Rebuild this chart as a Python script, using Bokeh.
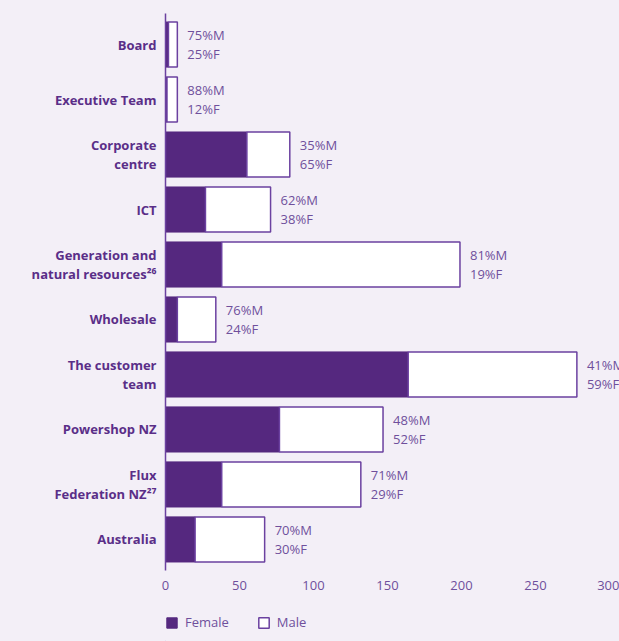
from bokeh.plotting import figure
from bokeh.models import ColumnDataSource, FactorRange, Range1d, FixedTicker, Legend, LegendItem
from bokeh.layouts import column
from bokeh.core.properties import value
from bokeh.embed import file_html
from bokeh.resources import INLINE

categories = ["Board", "Executive Team", "Corporate\ncentre", "ICT",
              "Generation and\nnatural resources\u00b2\u2076", "Wholesale",
              "The customer\nteam", "Powershop NZ", "Flux\nFederation NZ\u00b2\u2077",
              "Australia"]
female = [2, 1, 55, 27, 38, 8, 164, 77, 38, 20]
male = [6, 7, 29, 44, 161, 26, 114, 70, 94, 47]
male_pct = ["75%M", "88%M", "35%M", "62%M", "81%M", "76%M", "41%M", "48%M", "71%M", "70%M"]
female_pct = ["25%F", "12%F", "65%F", "38%F", "19%F", "24%F", "59%F", "52%F", "29%F", "30%F"]
x_ticks = [0, 50, 100, 150, 200, 250, 300]
series = ["Female", "Male"]

PURPLE = "#55287f"
LINE = "#6b41a0"
LABEL = "#5a2e88"
SOFT = "#6f4f9c"
BG = "#f3eff7"
FONT = "Open Sans"

total = [f + m for f, m in zip(female, male)]
pct_text = [a + "\n" + b for a, b in zip(male_pct, female_pct)]

src = ColumnDataSource(dict(cat=categories, female=female, male=male, total=total,
                            zero=[0] * len(categories), txt=pct_text))

p = figure(width=619, height=600, output_backend="svg", toolbar_location=None,
           y_range=FactorRange(factors=list(reversed(categories)), range_padding=0.065,
                               range_padding_units="absolute"),
           x_range=Range1d(0, 306.8),
           min_border_left=165, min_border_right=0, min_border_top=13, min_border_bottom=30)
p.background_fill_color = BG
p.border_fill_color = BG
p.outline_line_color = None
p.grid.grid_line_color = None

r_f = p.hbar(y="cat", left="zero", right="female", height=0.82, source=src,
             fill_color=PURPLE, line_color=PURPLE, line_width=1)
r_m = p.hbar(y="cat", left="female", right="total", height=0.82, source=src,
             fill_color="white", line_color=LINE, line_width=1.5)
p.text(x="total", y="cat", text="txt", source=src, x_offset=10,
       text_baseline="middle", text_align="left", text_font_size="13px",
       text_color=SOFT, text_font=value(FONT), text_line_height=1.02)

xa = p.xaxis[0]
xa.ticker = FixedTicker(ticks=x_ticks)
xa.axis_line_color = None
xa.major_tick_line_color = None
xa.minor_tick_line_color = None
xa.major_tick_out = 0
xa.major_tick_in = 0
xa.major_label_text_font_size = "13px"
xa.major_label_text_color = SOFT
xa.major_label_text_font = FONT
xa.major_label_standoff = 10

ya = p.yaxis[0]
ya.axis_line_color = LINE
ya.axis_line_width = 1.5
ya.major_tick_line_color = None
ya.minor_tick_line_color = None
ya.major_tick_out = 0
ya.major_tick_in = 0
ya.major_label_text_font_size = "13px"
ya.major_label_text_font_style = "bold"
ya.major_label_text_color = LABEL
ya.major_label_text_font = FONT
ya.major_label_text_line_height = 1.02
ya.major_label_standoff = 9

# legend strip below the chart
lg = figure(width=619, height=41, output_backend="svg", toolbar_location=None,
            x_axis_location=None, y_axis_location=None,
            x_range=Range1d(0, 10), y_range=Range1d(0, 10),
            min_border_left=0, min_border_right=0, min_border_top=0, min_border_bottom=0)
lg.background_fill_color = BG
lg.border_fill_color = BG
lg.outline_line_color = None
lg.grid.grid_line_color = None
offscreen = ColumnDataSource(dict(y=[-100], l=[-100], r=[-99]))
lf = lg.hbar(y="y", left="l", right="r", height=1, source=offscreen,
             fill_color=PURPLE, line_color=PURPLE, line_width=1)
lm = lg.hbar(y="y", left="l", right="r", height=1, source=offscreen,
             fill_color="white", line_color=LINE, line_width=1.5)
legend = Legend(items=[LegendItem(label=series[0], renderers=[lf]),
                       LegendItem(label=series[1], renderers=[lm])],
                orientation="horizontal", location=(0, 10),
                background_fill_alpha=0, border_line_color=None,
                label_text_font_size="13px", label_text_color=SOFT, label_text_font=FONT,
                glyph_width=13, glyph_height=13, spacing=28, padding=0,
                margin=0, label_standoff=7)
lg.add_layout(legend)

layout = column(p, lg, spacing=0, styles={"background-color": BG})
open("out.html", "w").write(file_html(layout, INLINE))
